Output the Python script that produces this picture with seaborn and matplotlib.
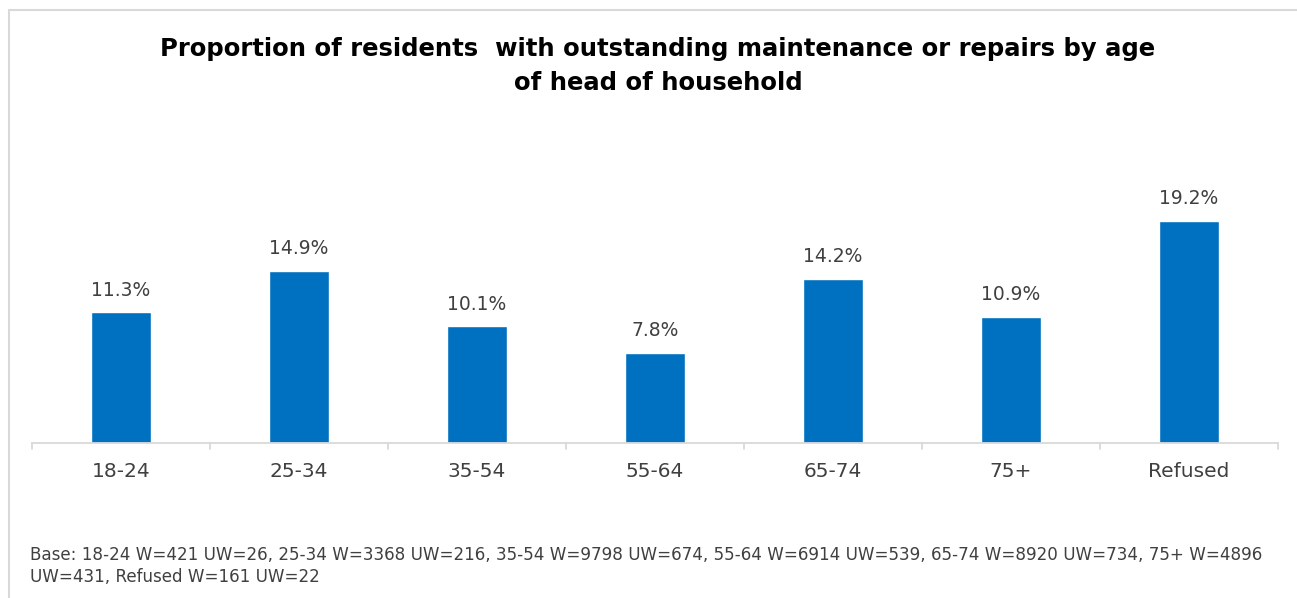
import matplotlib
matplotlib.use("Agg")
import pandas as pd
import seaborn as sns
import matplotlib.pyplot as plt
from matplotlib.patches import Rectangle

# chart values
age_groups = ["18-24", "25-34", "35-54", "55-64", "65-74", "75+", "Refused"]
pct_outstanding = [11.3, 14.9, 10.1, 7.8, 14.2, 10.9, 19.2]

title_text = "Proportion of residents  with outstanding maintenance or repairs by age\nof head of household"
base_note = ("Base: 18-24 W=421 UW=26, 25-34 W=3368 UW=216, 35-54 W=9798 UW=674, 55-64 W=6914 UW=539, 65-74 W=8920 UW=734, 75+ W=4896\n"
             "UW=431, Refused W=161 UW=22")

df = pd.DataFrame({"age": age_groups, "pct": pct_outstanding})

sns.set_style("white")
plt.rcParams["font.family"] = ["DejaVu Sans"]

fig = plt.figure(figsize=(12.97, 5.98), dpi=100)
ax = fig.add_axes([32 / 1297, 1 - 443 / 598, (1278 - 32) / 1297, (443 - 160) / 598])

sns.barplot(data=df, x="age", y="pct", color="#0070C0", saturation=1, width=0.34, ax=ax)

ax.set_ylim(0, (443 - 160) / 11.56)
ax.set_xlim(-0.5, len(age_groups) - 0.5)
ax.set_xlabel("")
ax.set_ylabel("")
ax.set_yticks([])
for s in ["top", "right", "left"]:
    ax.spines[s].set_visible(False)
ax.spines["bottom"].set_color("#d9d9d9")
ax.spines["bottom"].set_linewidth(1.3)

# ticks between categories
ax.set_xticks(range(len(age_groups)))
ax.set_xticklabels(age_groups, fontsize=14.5, color="#404040")
ax.tick_params(axis="x", length=0, pad=14)
for b in [i - 0.5 for i in range(len(age_groups) + 1)]:
    ax.plot([b, b], [0, -0.5], color="#d9d9d9", lw=1.3, clip_on=False)

for i, v in enumerate(pct_outstanding):
    ax.text(i, v + 1.1, f"{v:.1f}%", ha="center", va="bottom", fontsize=13.5, color="#404040")

fig.text(658 / 1297, 1 - 66 / 598, title_text, ha="center", va="center",
         fontsize=17.5, fontweight="bold", color="black", linespacing=1.55)

fig.text(30 / 1297, 1 - 566 / 598, base_note, ha="left", va="center",
         fontsize=12.1, color="#404040", linespacing=1.35)

# light frame around the chart area
fig.patches.append(Rectangle((9 / 1297, -0.1), 1.2, 1 - 10 / 598 + 0.1, transform=fig.transFigure,
                             fill=False, edgecolor="#d9d9d9", lw=1.5))

fig.savefig("out.png", dpi=100)
